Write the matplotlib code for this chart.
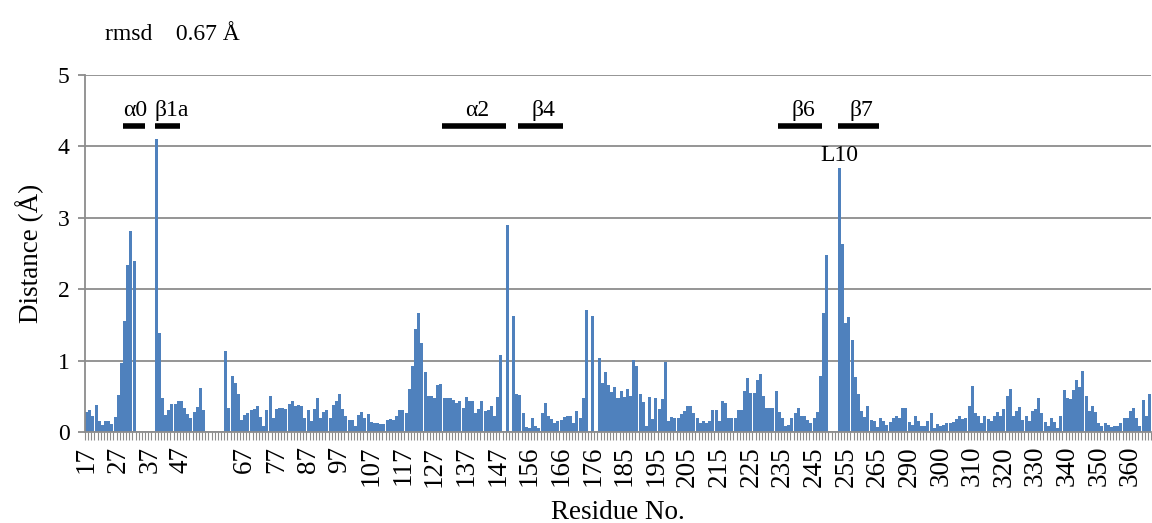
import numpy as np
import matplotlib
matplotlib.use('Agg')
import matplotlib.pyplot as plt
from matplotlib.ticker import FixedLocator

plt.rcParams['font.family'] = ['Liberation Serif', 'DejaVu Serif']

nan = np.nan

# distance per residue (one value per category, nan = missing residue)
distances = [
    0.28, 0.31, 0.23, 0.38, 0.15, 0.10, 0.16, 0.16, 0.11, 0.21, 0.52, 0.97, 1.56, 2.34, 2.82, 2.40,
    nan, nan, nan, nan, nan, nan,
    4.10, 1.38, 0.48, 0.24, 0.31, 0.39, 0.39, 0.44, 0.44, 0.33, 0.25, 0.19, 0.28, 0.35, 0.62, 0.31,
    nan, nan, nan, nan, nan, nan,
    1.13, 0.33, 0.79, 0.68, 0.53, 0.17, 0.24, 0.27, 0.31, 0.32, 0.36, 0.21, 0.09, 0.31, 0.50, 0.20,
    0.32, 0.34, 0.33, 0.32, 0.39, 0.43, 0.36, 0.38,
    0.37, 0.20, 0.31, 0.15, 0.32, 0.48, 0.19, 0.28, 0.31, 0.19,
    0.38, 0.44, 0.53, 0.32, 0.23, 0.17, 0.17, 0.09, 0.24, 0.28,
    0.19, 0.25, 0.14, 0.13, 0.13, 0.11, 0.11, 0.17, 0.18, 0.17,
    0.23, 0.31, 0.31, 0.26, 0.60, 0.93, 1.44, 1.67, 1.25, 0.84,
    0.51, 0.51, 0.48, 0.66, 0.67, 0.48, 0.48, 0.48, 0.45, 0.41,
    0.44, 0.33, 0.49, 0.44, 0.44, 0.27, 0.32, 0.44, 0.29, 0.31,
    0.36, 0.23, 0.49, 1.08, nan, 2.90, nan, 1.63,
    0.53, 0.52, 0.26, 0.07, 0.05, 0.20, 0.09, 0.05, 0.26, 0.40, 0.22, 0.18, 0.13, 0.15, 0.17, 0.21,
    0.23, 0.23, 0.13, 0.29, 0.20, 0.48, 1.71, nan, 1.62, nan,
    1.03, 0.69, 0.84, 0.66, 0.56, 0.63, 0.48, 0.58, 0.49, 0.60,
    0.50, 1.01, 0.92, 0.53, 0.42, 0.09, 0.49, 0.18, 0.47, 0.32,
    0.46, 0.98, 0.15, 0.21, 0.20, 0.20, 0.25, 0.29, 0.37, 0.37,
    0.27, 0.20, 0.13, 0.16, 0.12, 0.15, 0.31, 0.31, 0.16, 0.44,
    0.40, 0.19,
    0.19, 0.20, 0.31, 0.31, 0.57, 0.75, 0.54, 0.54, 0.73, 0.81,
    0.50, 0.34, 0.33, 0.33, 0.57, 0.28, 0.20, 0.08, 0.10, 0.19,
    0.27, 0.34, 0.22, 0.22, 0.17, 0.12, 0.19, 0.28, 0.79, 1.66,
    2.48, nan, nan, nan,
    3.70, 2.63, 1.53, 1.61, 1.29, 0.77, 0.53, 0.29, 0.21, 0.37,
    0.17, 0.16, 0.07, 0.19, 0.16, 0.10, 0.14, 0.19, 0.23, 0.19,
    0.34, 0.34, 0.14, 0.10, 0.23, 0.16, 0.09, 0.09, 0.16, 0.27,
    0.06, 0.11, 0.09, 0.10, 0.12,
    0.13, 0.14, 0.18, 0.22, 0.18, 0.20, 0.36, 0.64, 0.27, 0.23,
    0.13, 0.22, 0.18, 0.15, 0.23, 0.28, 0.23, 0.32, 0.51, 0.60,
    0.22, 0.29, 0.35, 0.17, 0.23, 0.15, 0.29, 0.32, 0.47, 0.27,
    0.14, 0.09, 0.20, 0.14, 0.06, 0.23, 0.59, 0.47, 0.46, 0.59,
    0.73, 0.63, 0.85, 0.50, 0.29, 0.37, 0.28, 0.13, 0.08, 0.12,
    0.10, 0.07, 0.09, 0.09, 0.13, 0.20, 0.20, 0.29, 0.33, 0.19,
    0.08, 0.45, 0.23, 0.53,
]

# every 10th category label (blank where residue label missing)
tick_labels = ['17', '27', '37', '47', '', '67', '77', '87', '97', '107', '117', '127', '137',
               '147', '156', '166', '176', '185', '195', '205', '215', '225', '235', '245', '255',
               '265', '290', '300', '310', '320', '330', '340', '350', '360']

# secondary structure elements: name, first category, last category, text alignment
sec_struct = [
    ('α0', 12, 18, 'left'),
    ('β1a', 22, 29, 'left'),
    ('α2', 113, 132, 'center'),
    ('β4', 137, 150, 'center'),
    ('β6', 219, 232, 'center'),
    ('β7', 238, 250, 'center'),
]

rmsd = 0.67
loop_label = ('L10', 238)

bar_color = '#4F81BD'
grid_color = '#8C8C8C'
fs = 17

fig = plt.figure(figsize=(11.52, 5.23), dpi=100)
ax = fig.add_axes([85 / 1152, 1 - 432 / 523, 1066 / 1152, 357 / 523])

x = np.arange(len(distances))
ax.bar(x, np.array(distances, dtype=float), width=0.95, color=bar_color, linewidth=0)

ax.set_xlim(-0.5, len(distances) - 0.5)
ax.set_ylim(0, 5)
ax.set_yticks(range(6))
ax.yaxis.grid(True, color=grid_color, linewidth=1.3)
ax.set_axisbelow(True)
for s in ['top', 'right']:
    ax.spines[s].set_visible(False)
for s in ['left', 'bottom']:
    ax.spines[s].set_color(grid_color)
    ax.spines[s].set_linewidth(1.3)

ax.set_xticks(np.arange(len(tick_labels)) * 10)
ax.set_xticklabels(tick_labels, rotation=90, fontsize=19.5)
ax.xaxis.set_minor_locator(FixedLocator(np.arange(len(distances) + 1) - 0.5))
ax.tick_params(axis='x', which='major', length=0, pad=10)
ax.tick_params(axis='x', which='minor', length=6, color=grid_color, width=0.8, direction='out')
ax.tick_params(axis='y', length=5, color=grid_color, width=1.3, labelsize=fs, pad=6)

ax.set_ylabel('Distance (Å)', fontsize=19.5, labelpad=10)
ax.set_xlabel('Residue No.', fontsize=19.5)
ax.xaxis.set_label_coords(0.5, -0.19)

for name, start, end, align in sec_struct:
    ax.plot([start - 0.5, end + 0.5], [4.29, 4.29], color='black', linewidth=4,
            solid_capstyle='butt', clip_on=False)
    tx = start - 0.5 if align == 'left' else (start + end) / 2 + 1
    ax.text(tx, 4.36, name, fontsize=fs, ha=align, va='bottom')

ax.text(loop_label[1], 3.72, loop_label[0], fontsize=fs, ha='center', va='bottom')

fig.text(105 / 1152, 1 - 35 / 523, 'rmsd    %.2f Å' % rmsd, fontsize=fs, va='center')

fig.savefig('out.png', dpi=100)
